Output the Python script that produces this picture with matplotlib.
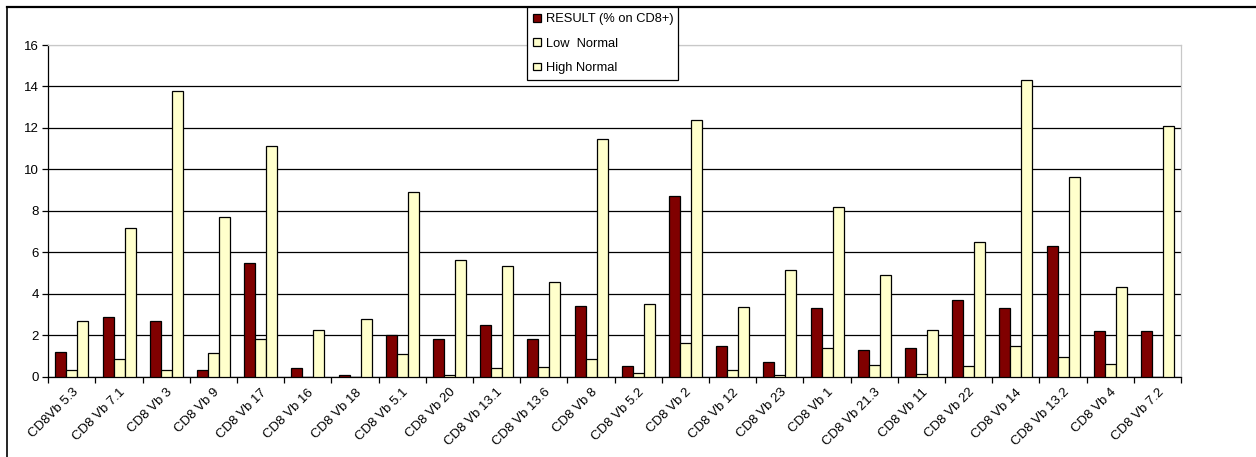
import numpy as np
import matplotlib
matplotlib.use("Agg")
import matplotlib.pyplot as plt
from matplotlib.patches import Patch
from matplotlib.lines import Line2D

plt.rcParams['font.family'] = ['Liberation Sans', 'DejaVu Sans']

categories = [
    "CD8Vb 5.3", "CD8 Vb 7.1", "CD8 Vb 3", "CD8 Vb 9", "CD8 Vb 17", "CD8 Vb 16",
    "CD8 Vb 18", "CD8 Vb 5.1", "CD8 Vb 20", "CD8 Vb 13.1", "CD8 Vb 13.6", "CD8 Vb 8",
    "CD8 Vb 5.2", "CD8 Vb 2", "CD8 Vb 12", "CD8 Vb 23", "CD8 Vb 1", "CD8 Vb 21.3",
    "CD8 Vb 11", "CD8 Vb 22", "CD8 Vb 14", "CD8 Vb 13.2", "CD8 Vb 4", "CD8 Vb 7.2",
]
result = [1.2, 2.9, 2.7, 0.3, 5.5, 0.4, 0.1, 2.0, 1.8, 2.5, 1.8, 3.4,
          0.5, 8.7, 1.5, 0.7, 3.3, 1.3, 1.4, 3.7, 3.3, 6.3, 2.2, 2.2]
low_normal = [0.3, 0.85, 0.3, 1.15, 1.8, 0.0, 0.0, 1.1, 0.06, 0.42, 0.48, 0.84,
              0.2, 1.64, 0.3, 0.06, 1.4, 0.55, 0.14, 0.53, 1.5, 0.96, 0.6, 0.0]
high_normal = [2.7, 7.15, 13.8, 7.7, 11.15, 2.25, 2.8, 8.9, 5.65, 5.35, 4.55, 11.45,
               3.5, 12.4, 3.35, 5.15, 8.2, 4.9, 2.25, 6.5, 14.3, 9.65, 4.35, 12.1]
series_names = ["RESULT (% on CD8+)", "Low  Normal", "High Normal"]
yticks = [0, 2, 4, 6, 8, 10, 12, 14, 16]

W, H = 1256, 457
fig = plt.figure(figsize=(W / 100, H / 100), dpi=100)
ax = fig.add_axes([48.3 / W, 80.3 / H, (1181 - 48.3) / W, 331.7 / H])

x = np.arange(len(categories))
bw = 0.233
colors = ["#800000", "#FFFFCC", "#FFFFCC"]
for i, (vals, c) in enumerate(zip([result, low_normal, high_normal], colors)):
    ax.bar(x + (i - 1) * bw, vals, width=bw, color=c, edgecolor="black",
           linewidth=0.9, zorder=3)

ax.set_xlim(-0.5, len(categories) - 0.5)
ax.set_ylim(0, 16)
ax.set_yticks(yticks)
ax.set_yticklabels([str(v) for v in yticks])
ax.tick_params(axis="y", direction="out", length=4, width=0.9, labelsize=9.5, pad=3)

ax.set_xticks(x)
ax.set_xticklabels(categories, rotation=45, ha="right", va="top",
                   rotation_mode="anchor", fontsize=9.5)
ax.tick_params(axis="x", which="major", length=0, pad=7)
ax.set_xticks(np.arange(len(categories) + 1) - 0.5, minor=True)
ax.tick_params(axis="x", which="minor", direction="out", length=4, width=0.9)

ax.set_axisbelow(True)
ax.yaxis.grid(True, color="black", linewidth=0.9)
ax.xaxis.grid(False)
fig.canvas.draw()
ax.yaxis.get_gridlines()[-1].set_color("#c8c8c8")

for side in ["left", "bottom"]:
    ax.spines[side].set_color("black")
    ax.spines[side].set_linewidth(0.9)
for side in ["top", "right"]:
    ax.spines[side].set_color("#c8c8c8")
    ax.spines[side].set_linewidth(0.9)

# outer chart frame (top and left edges)
fx, fy = 7 / W, 1 - 7 / H
fig.add_artist(Line2D([fx, 1], [fy, fy], transform=fig.transFigure,
                      color="black", linewidth=1.6))
fig.add_artist(Line2D([fx, fx], [0, fy], transform=fig.transFigure,
                      color="black", linewidth=1.2))

handles = [Patch(facecolor=c, edgecolor="black", linewidth=0.9) for c in colors]
leg = fig.legend(handles, series_names, loc="upper left",
                 bbox_to_anchor=(527 / W, 1 - 80 / H, 151 / W, 73 / H),
                 mode="expand", fontsize=9.3, frameon=True,
                 fancybox=False, framealpha=1, edgecolor="black",
                 handlelength=0.55, handleheight=0.55, handletextpad=0.45,
                 labelspacing=0.95, borderpad=0.5, borderaxespad=0)
leg.get_frame().set_linewidth(0.9)

fig.savefig("out.png", dpi=100)
